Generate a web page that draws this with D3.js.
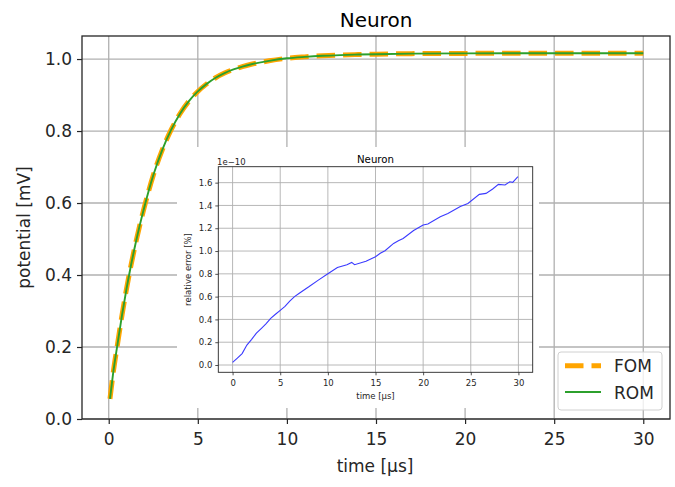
<!DOCTYPE html>
<html><head><meta charset="utf-8">
<script src="https://cdn.jsdelivr.net/npm/d3@7"></script>
<style>body{margin:0;background:#fff}svg{display:block;font-family:"DejaVu Sans",sans-serif}</style>
</head><body>
<svg id="c" width="675" height="487"></svg>
<script>
// ---- main chart data ----
const timeMain = [0.07,0.25,0.5,0.75,1,1.25,1.5,1.75,2,2.5,3,3.5,4,4.5,5,5.5,6,6.5,7,7.5,8,9,10,11,12,13,14,15,17,20,23,26,30];
const fomValues = [0.056,0.128,0.21,0.29,0.362,0.427,0.486,0.54,0.589,0.677,0.747,0.803,0.848,0.883,0.91,0.931,0.948,0.961,0.971,0.979,0.9855,0.995,1.002,1.006,1.009,1.011,1.0125,1.0135,1.015,1.0157,1.016,1.016,1.016];
const romValues = fomValues.slice();
const mainXTicks = [0,5,10,15,20,25,30];
const mainYTicks = [0.0,0.2,0.4,0.6,0.8,1.0];
const seriesNames = ["FOM","ROM"];
// ---- inset data ----
const timeInset = [0,0.5,1,1.5,2,2.5,3,3.5,4,4.5,5,5.5,6,6.5,7,8,9,10,11,12,12.5,12.8,14,15,15.5,16,16.9,17.4,17.9,19,20,20.5,21.8,22.6,23.9,24.7,25.9,26.6,27.3,27.9,28.6,29.1,29.4,29.95];
const errValues = [0.023,0.06,0.10,0.175,0.225,0.28,0.32,0.36,0.41,0.445,0.48,0.515,0.56,0.60,0.63,0.686,0.745,0.80,0.855,0.88,0.90,0.88,0.91,0.95,0.98,1.003,1.067,1.09,1.11,1.18,1.228,1.237,1.30,1.33,1.39,1.418,1.497,1.506,1.544,1.585,1.579,1.608,1.603,1.652];
const insetXTicks = [0,5,10,15,20,25,30];
const insetYTicks = [0.0,0.2,0.4,0.6,0.8,1.0,1.2,1.4,1.6];

const svg = d3.select("#c");
const grid = "#b0b0b0", spine = "#262626", txt = "#262626";

// main axes
const M = {l:82, r:670, t:36, b:419};
const x = d3.scaleLinear().domain([-1.5,31.5]).range([M.l,M.r]);
const y = d3.scaleLinear().domain([0,1.064]).range([M.b,M.t]);

const g = svg.append("g");
g.append("g").selectAll("line").data(mainXTicks).join("line")
  .attr("x1",d=>x(d)).attr("x2",d=>x(d)).attr("y1",M.t).attr("y2",M.b)
  .attr("stroke",grid).attr("stroke-width",1.3);
g.append("g").selectAll("line").data(mainYTicks).join("line")
  .attr("y1",d=>y(d)).attr("y2",d=>y(d)).attr("x1",M.l).attr("x2",M.r)
  .attr("stroke",grid).attr("stroke-width",1.3);

const xAx = g.append("g").attr("transform",`translate(0,${M.b})`)
  .call(d3.axisBottom(x).tickValues(mainXTicks).tickFormat(d3.format("d")).tickSize(5).tickPadding(5));
const yAx = g.append("g").attr("transform",`translate(${M.l},0)`)
  .call(d3.axisLeft(y).tickValues(mainYTicks).tickFormat(d3.format(".1f")).tickSize(5).tickPadding(5));
[xAx,yAx].forEach(a=>{a.select(".domain").remove();
  a.selectAll("line").attr("stroke",spine).attr("stroke-width",1.2);
  a.selectAll("text").attr("font-size",17).attr("fill",txt).attr("font-family","DejaVu Sans");});
xAx.selectAll("text").attr("dy","0.95em");

const line = d3.line().x((d,i)=>x(timeMain[i])).y(d=>y(d)).curve(d3.curveMonotoneX);
g.append("path").datum(fomValues).attr("d",line).attr("fill","none")
  .attr("stroke","#ffa500").attr("stroke-width",5).attr("stroke-dasharray","18.5,8");
g.append("path").datum(romValues).attr("d",line).attr("fill","none")
  .attr("stroke","#2ca02c").attr("stroke-width",1.9);

g.append("rect").attr("x",M.l).attr("y",M.t).attr("width",M.r-M.l).attr("height",M.b-M.t)
  .attr("fill","none").attr("stroke",spine).attr("stroke-width",1.3);

g.append("text").attr("x",(M.l+M.r)/2).attr("y",26.5).attr("text-anchor","middle")
  .attr("font-size",20).attr("fill","#000").text("Neuron");
g.append("text").attr("x",375).attr("y",471.5).attr("text-anchor","middle")
  .attr("font-size",17).attr("fill",txt).text("time [µs]");
g.append("text").attr("transform",`translate(30,${(M.t+M.b)/2}) rotate(-90)`).attr("text-anchor","middle")
  .attr("font-size",17).attr("fill",txt).text("potential [mV]");

// legend
const lg = g.append("g");
lg.append("rect").attr("x",558).attr("y",352).attr("width",104).attr("height",58).attr("rx",3)
  .attr("fill","#fff").attr("fill-opacity",0.8).attr("stroke","#d0d0d0").attr("stroke-width",1);
const legY = [365.7,392];
const legStyle = [{c:"#ffa500",w:5,da:"18.5,8"},{c:"#2ca02c",w:1.9,da:null}];
seriesNames.forEach((n,i)=>{
  lg.append("line").attr("x1",565).attr("x2",601).attr("y1",legY[i]).attr("y2",legY[i])
    .attr("stroke",legStyle[i].c).attr("stroke-width",legStyle[i].w).attr("stroke-dasharray",legStyle[i].da);
  lg.append("text").attr("x",614).attr("y",legY[i]+6.5).attr("font-size",17).attr("fill",txt).text(n);
});

// inset
svg.append("rect").attr("x",177).attr("y",147).attr("width",362).attr("height",261).attr("fill","#fff");
const I = {l:218.3, r:532.7, t:166.7, b:372.3};
const xi = d3.scaleLinear().domain([-1.5,31.5]).range([I.l,I.r]);
const yi = d3.scaleLinear().domain([-0.064,1.74]).range([I.b,I.t]);
const gi = svg.append("g");
gi.append("g").selectAll("line").data(insetXTicks).join("line")
  .attr("x1",d=>xi(d)).attr("x2",d=>xi(d)).attr("y1",I.t).attr("y2",I.b)
  .attr("stroke",grid).attr("stroke-width",0.9);
gi.append("g").selectAll("line").data(insetYTicks).join("line")
  .attr("y1",d=>yi(d)).attr("y2",d=>yi(d)).attr("x1",I.l).attr("x2",I.r)
  .attr("stroke",grid).attr("stroke-width",0.9);
const xiAx = gi.append("g").attr("transform",`translate(0,${I.b})`)
  .call(d3.axisBottom(xi).tickValues(insetXTicks).tickFormat(d3.format("d")).tickSize(3).tickPadding(3));
const yiAx = gi.append("g").attr("transform",`translate(${I.l},0)`)
  .call(d3.axisLeft(yi).tickValues(insetYTicks).tickFormat(d3.format(".1f")).tickSize(3).tickPadding(3));
[xiAx,yiAx].forEach(a=>{a.select(".domain").remove();
  a.selectAll("line").attr("stroke",spine).attr("stroke-width",0.8);
  a.selectAll("text").attr("font-size",8.5).attr("fill",txt).attr("font-family","DejaVu Sans");});
xiAx.selectAll("text").attr("dy","0.95em");
const lineI = d3.line().x((d,i)=>xi(timeInset[i])).y(d=>yi(d));
gi.append("path").datum(errValues).attr("d",lineI).attr("fill","none")
  .attr("stroke","#3a3aff").attr("stroke-width",1.1);
gi.append("rect").attr("x",I.l).attr("y",I.t).attr("width",I.r-I.l).attr("height",I.b-I.t)
  .attr("fill","none").attr("stroke",spine).attr("stroke-width",0.9);
gi.append("text").attr("x",(I.l+I.r)/2).attr("y",162.5).attr("text-anchor","middle")
  .attr("font-size",10.2).attr("fill","#000").text("Neuron");
gi.append("text").attr("x",217).attr("y",164.5).attr("font-size",8.5).attr("fill",txt).text("1e\u221210");
gi.append("text").attr("x",(I.l+I.r)/2).attr("y",399).attr("text-anchor","middle")
  .attr("font-size",8.5).attr("fill",txt).text("time [µs]");
gi.append("text").attr("transform",`translate(190.5,${(I.t+I.b)/2}) rotate(-90)`).attr("text-anchor","middle")
  .attr("font-size",8.5).attr("fill",txt).text("relative error [%]");
</script>
</body></html>
